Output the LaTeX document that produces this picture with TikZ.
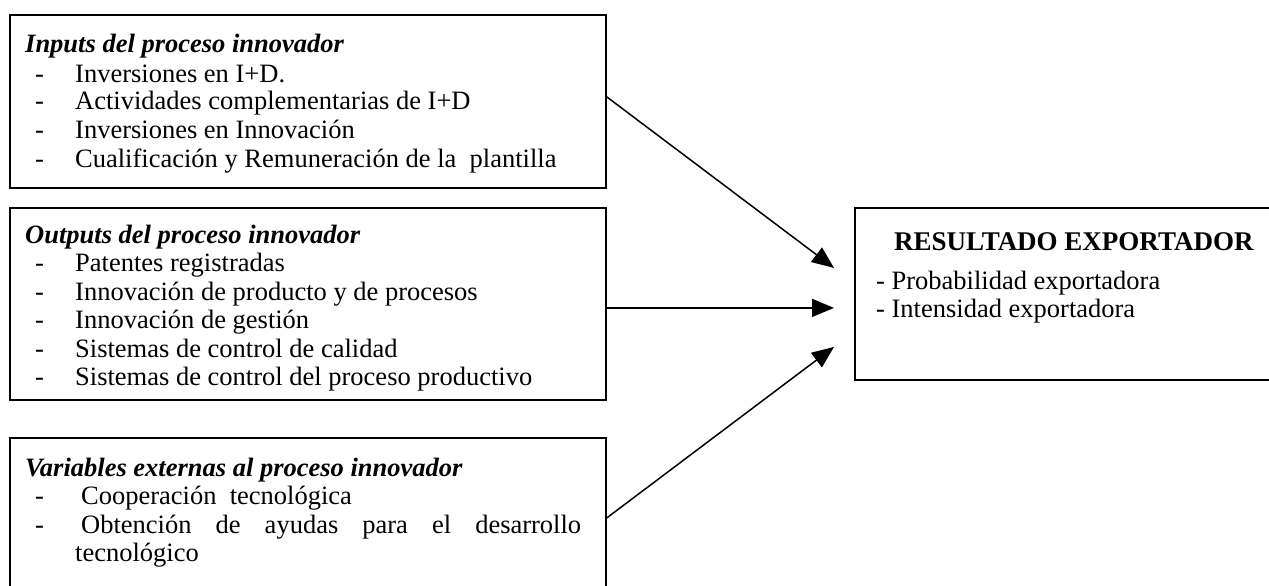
\documentclass[tikz,border=0pt]{standalone}
\usepackage{fontspec}
\setmainfont{Liberation Serif}
\usetikzlibrary{arrows.meta}
\begin{document}
\begin{tikzpicture}[x=1pt,y=-1pt,
  box/.style={draw, line width=1.8pt, inner sep=0pt, anchor=north west},
  ltext/.style={anchor=base west, inner sep=0pt, font=\fontsize{26.5}{29}\selectfont},
  lhead/.style={ltext, font=\fontsize{26.5}{29}\selectfont\bfseries\itshape},
  rtext/.style={anchor=base west, inner sep=0pt, font=\fontsize{26.5}{30}\selectfont},
  rhead/.style={rtext, font=\fontsize{27}{30}\selectfont\bfseries},
  arr/.style={line width=1.5pt, -{Triangle[length=22pt,width=18pt]}}]
\useasboundingbox (0,0) rectangle (1269,586);
\newcommand{\itm}[1]{\makebox[40pt][l]{-}#1}
% left boxes
\node[box, minimum width=596pt, minimum height=173pt] (boxin) at (9,14) {};
\node[box, minimum width=596pt, minimum height=192pt] (boxout) at (9,207) {};
\node[box, minimum width=596pt, minimum height=165pt] (boxvar) at (9,437) {};
\node[box, minimum width=440pt, minimum height=172pt] (res) at (854,207) {};
% box 1
\node[lhead] (i0) at (25,53) {Inputs del proceso innovador};
\node[ltext] (i1) at (35,82) {\itm{Inversiones en I+D.}};
\node[ltext] (i2) at (35,110) {\itm{Actividades complementarias de I+D}};
\node[ltext] (i3) at (35,138.5) {\itm{Inversiones en Innovación}};
\node[ltext] (i4) at (35,167) {\itm{Cualificación y Remuneración de la\ \ plantilla}};
% box 2
\node[lhead] (o0) at (25,243) {Outputs del proceso innovador};
\node[ltext] (o1) at (35,271.5) {\itm{Patentes registradas}};
\node[ltext] (o2) at (35,300) {\itm{Innovación de producto y de procesos}};
\node[ltext] (o3) at (35,328.5) {\itm{Innovación de gestión}};
\node[ltext] (o4) at (35,357) {\itm{Sistemas de control de calidad}};
\node[ltext] (o5) at (35,385.5) {\itm{Sistemas de control del proceso productivo}};
% box 3
\node[lhead] (v0) at (25,476) {Variables externas al proceso innovador};
\node[ltext] (v1) at (35,504.5) {\itm{\hspace{6pt}Cooperación\ \ tecnológica}};
\node[ltext] (v2) at (35,533) {\itm{\hspace{6pt}\makebox[500pt][s]{Obtención de ayudas para el desarrollo}}};
\node[ltext] (v3) at (75,561.5) {tecnológico};
% right box
\node[rhead] (r0) at (894,250) {RESULTADO EXPORTADOR};
\node[rtext] (r1) at (876,289) {- Probabilidad exportadora};
\node[rtext] (r2) at (876,317) {- Intensidad exportadora};
% arrows
\draw[arr] ([yshift=4.5pt]boxin.east) -- ([xshift=-20pt,yshift=26pt]res.west);
\draw[arr] ([yshift=-4pt]boxout.east) -- ([xshift=-20pt,yshift=-14pt]res.west);
\draw[arr] ([yshift=2.5pt]boxvar.east) -- ([xshift=-20pt,yshift=-53pt]res.west);
\end{tikzpicture}
\end{document}
